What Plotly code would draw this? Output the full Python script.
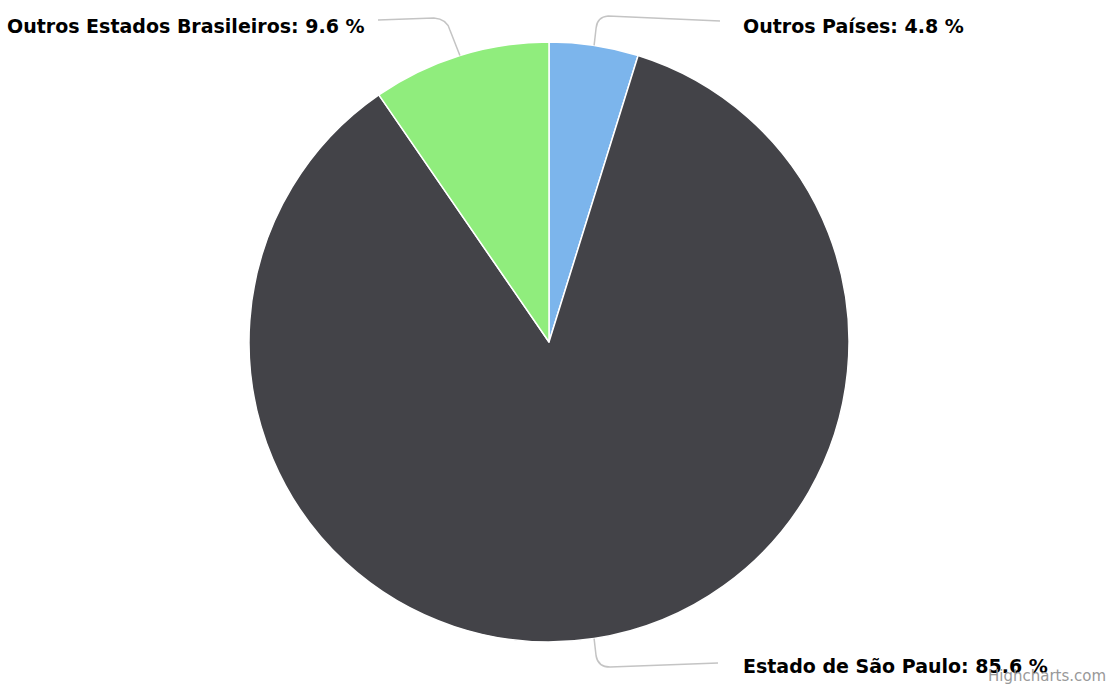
import math
import plotly.graph_objects as go

categories = ["Outros Países", "Estado de São Paulo", "Outros Estados Brasileiros"]
values = [4.8, 85.6, 9.6]
colors = ["#7cb5ec", "#434348", "#90ed7d"]

W, H = 1113, 684
cx, cy, R = 549, 342, 300

fig = go.Figure()
fig.add_trace(go.Pie(
    labels=categories, values=values, sort=False, direction="clockwise", rotation=0,
    marker=dict(colors=colors, line=dict(color="#ffffff", width=1.5)),
    textinfo="none", hoverinfo="label+percent", showlegend=False,
    domain=dict(x=[(cx - R) / W, (cx + R) / W], y=[(H - cy - R) / H, (H - cy + R) / H]),
))

# edge anchor points from data
total = sum(values)
anchors = []
cum = 0
for v in values:
    mid = (cum + v / 2) / total * 2 * math.pi
    anchors.append((cx + R * math.sin(mid), cy - R * math.cos(mid)))
    cum += v

font = dict(family="DejaVu Sans", size=19, color="#000000")
line_col = "#c4c4c4"

# Outros Países (top right)
ax, ay = anchors[0]
paths = []
paths.append(f"M {ax:.1f} {ay:.1f} L {ax+2:.1f} 28 Q {ax+3:.1f} 17 {ax+14:.1f} 16 L 720 21")
# São Paulo (bottom right)
ax, ay = anchors[1]
paths.append(f"M {ax:.1f} {ay:.1f} L {ax+2:.1f} 656 Q {ax+4:.1f} 667 {ax+16:.1f} 667 L 718 663")
# Outros Estados (top left)
ax, ay = anchors[2]
paths.append(f"M {ax:.1f} {ay:.1f} L {ax-10:.1f} 30 Q {ax-13:.1f} 19 {ax-26:.1f} 18 L 378 20")

shapes = [dict(type="path", path=p, xref="x", yref="y", line=dict(color=line_col, width=1.5)) for p in paths]

label_pos = [(741, 26, "left"), (741, 666, "left"), (367, 26, "right")]
annotations = []
for (x, y, anchor), name, v in zip(label_pos, categories, values):
    annotations.append(dict(x=x, y=y, xref="x", yref="y", text=f"<b>{name}: {v} %</b>",
                            showarrow=False, xanchor=anchor, yanchor="middle", font=font))
annotations.append(dict(x=1108, y=676, xref="x", yref="y", text="Highcharts.com", showarrow=False,
                        xanchor="right", yanchor="middle",
                        font=dict(family="DejaVu Sans", size=15, color="#999999")))

fig.update_layout(
    width=W, height=H, margin=dict(l=0, r=0, t=0, b=0),
    paper_bgcolor="#ffffff", plot_bgcolor="rgba(0,0,0,0)",
    xaxis=dict(range=[0, W], visible=False, fixedrange=True),
    yaxis=dict(range=[H, 0], visible=False, fixedrange=True),
    shapes=shapes, annotations=annotations,
)
fig.write_html("out.html", config={"displayModeBar": False},
               post_script="document.body.style.margin='0';document.body.style.overflow='hidden';")
